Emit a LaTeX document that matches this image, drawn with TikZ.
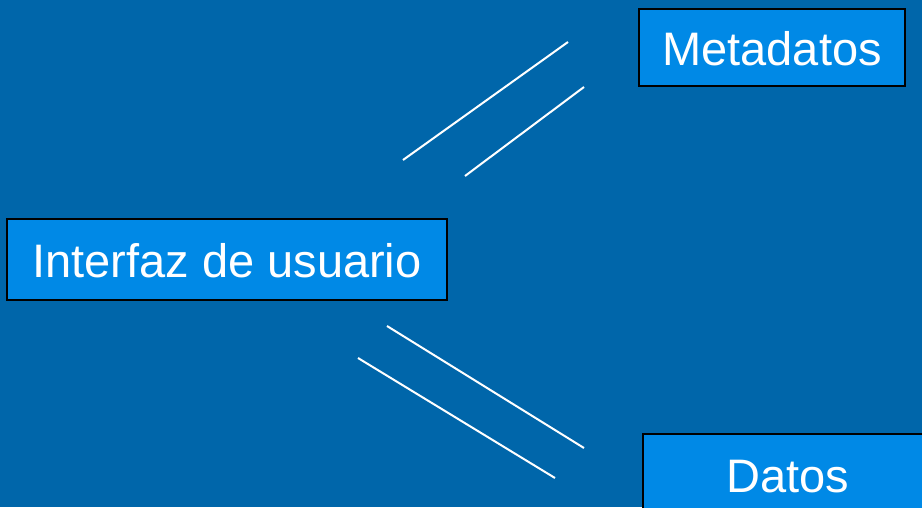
\documentclass[tikz,border=0pt]{standalone}
\usepackage{fontspec}
\setmainfont{Liberation Sans}
\definecolor{slidebg}{RGB}{0,102,170}
\definecolor{boxfill}{RGB}{0,137,230}
\tikzset{
  box/.style={draw=black, line width=2pt, fill=boxfill, text=white, inner sep=0pt,
    text height=36pt, text depth=0pt, font=\fontsize{47}{56}\selectfont},
  link/.style={draw=white, line width=2pt}
}
\begin{document}
\begin{tikzpicture}[x=1pt,y=-1pt]
  \clip (0,0) rectangle (922,507);
  \fill[slidebg] (0,0) rectangle (922,507);
  \node[box, minimum width=266pt, minimum height=77pt] (meta) at (772,47.5) {Metadatos};
  \node[box, minimum width=440pt, minimum height=81pt] (ui) at (227,259.5) {Interfaz de usuario};
  \node[box, minimum width=290pt, minimum height=80pt] (datos) at (788,474) {Datos};
  \coordinate (a1) at (403,160);
  \coordinate (a2) at (568,42);
  \coordinate (b1) at (465,176);
  \coordinate (b2) at (584,87);
  \coordinate (c1) at (387,326);
  \coordinate (c2) at (584,448);
  \coordinate (d1) at (358,358);
  \coordinate (d2) at (555,478);
  \draw[link] (a1) -- (a2);
  \draw[link] (b1) -- (b2);
  \draw[link] (c1) -- (c2);
  \draw[link] (d1) -- (d2);
\end{tikzpicture}
\end{document}
